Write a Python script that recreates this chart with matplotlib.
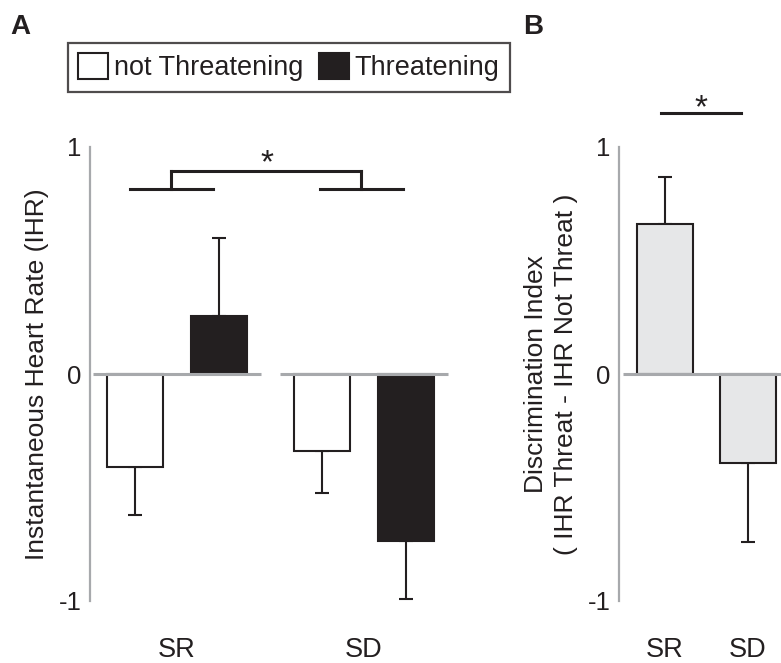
import numpy as np
import matplotlib
matplotlib.use("Agg")
import matplotlib.pyplot as plt
from matplotlib.patches import Patch

plt.rcParams['font.family'] = ['Liberation Sans', 'DejaVu Sans']

# Panel A: heart rate per group and condition
groups = ['SR', 'SD']
ihr_not_threat = [-0.41, -0.34]
ihr_not_threat_err = [0.21, 0.185]
ihr_threat = [0.255, -0.735]
ihr_threat_err = [0.345, 0.255]

# Panel B: discrimination index
disc_index = [0.66, -0.39]
disc_index_err = [0.21, 0.35]

ink = '#231f20'
grey = '#a7a9ac'
light = '#e6e7e8'

fig = plt.figure(figsize=(7.81, 6.63), dpi=100)
W, H = 781, 663


def fig_axes(x0, x1, y_top, y_bot):
    return fig.add_axes([x0 / W, 1 - y_bot / H, (x1 - x0) / W, (y_bot - y_top) / H])


def style(ax):
    for s in ['top', 'right', 'bottom']:
        ax.spines[s].set_visible(False)
    ax.spines['left'].set_color(grey)
    ax.spines['left'].set_linewidth(1.6)
    ax.set_ylim(-1, 1)
    ax.set_yticks([-1, 0, 1])
    ax.set_yticklabels(['-1', '0', '1'])
    ax.tick_params(axis='y', length=0, pad=6, labelsize=18.5, labelcolor='#231f20')
    ax.tick_params(axis='x', length=0, pad=26, labelsize=19.5, labelcolor='#231f20')


# ---------- A ----------
axA = fig_axes(90, 460, 147, 601)
style(axA)
x = np.arange(len(groups))
off, bw = 0.225, 0.30
axA.set_xlim(-0.465, 1.513)

axA.bar(x - off, ihr_not_threat, bw, color='white', edgecolor=ink, linewidth=1.5, zorder=2)
axA.bar(x + off, ihr_threat, bw, color=ink, edgecolor=ink, linewidth=1.5, zorder=2)

for xs, vals, errs in [(x - off, ihr_not_threat, ihr_not_threat_err),
                       (x + off, ihr_threat, ihr_threat_err)]:
    vals = np.array(vals)
    errs = np.array(errs)
    lo = np.where(vals < 0, errs, 0)
    hi = np.where(vals >= 0, errs, 0)
    axA.errorbar(xs, vals, yerr=[lo, hi], fmt='none', ecolor=ink,
                 elinewidth=1.5, capsize=5, capthick=1.5, zorder=1)

axA.hlines(np.zeros(len(x)), x - 0.447, x + 0.447, color=grey, linewidth=2.2, zorder=3)
axA.set_xticks(x)
axA.set_xticklabels(groups)
axA.set_ylabel('Instantaneous Heart Rate (IHR)', fontsize=19, color=ink)
axA.yaxis.label.set_va('center')
axA.yaxis.set_label_coords(-0.143, 0.5)

# significance bracket
bx = [-0.03, 0.985]
for c in bx:
    axA.plot([c - 0.222, c + 0.222], [0.815, 0.815], color=ink, lw=2.2, clip_on=False)
    axA.plot([c, c], [0.815, 0.894], color=ink, lw=2.2, clip_on=False)
axA.plot(bx, [0.894, 0.894], color=ink, lw=2.2, clip_on=False)
axA.text(0.48, 0.925, '*', ha='center', va='center', fontsize=24, color=ink)

# ---------- B ----------
axB = fig_axes(619, 781, 147, 601)
style(axB)
xb = np.arange(len(groups))
axB.set_xlim(-0.554, 1.398)
axB.bar(xb, disc_index, 0.675, color=light, edgecolor=ink, linewidth=1.5, zorder=2)
vals = np.array(disc_index)
errs = np.array(disc_index_err)
axB.errorbar(xb, vals, yerr=[np.where(vals < 0, errs, 0), np.where(vals >= 0, errs, 0)],
             fmt='none', ecolor=ink, elinewidth=1.5, capsize=5, capthick=1.5, zorder=1)
axB.hlines(0, -0.506, 1.398, color=grey, linewidth=2.2, zorder=3)
axB.set_xticks(xb)
axB.set_xticklabels(groups)
axB.set_ylabel('Discrimination Index\n( IHR Threat - IHR Not Threat )', fontsize=19,
               color=ink, linespacing=1.35)
axB.yaxis.label.set_va('center')
axB.yaxis.set_label_coords(-0.42, 0.5)

axB.plot([-0.048, 0.916], [1.15, 1.15], color=ink, lw=2.2, clip_on=False)
axB.text(0.434, 1.17, '*', ha='center', va='center', fontsize=24, color=ink)

# legend
handles = [Patch(facecolor='white', edgecolor=ink, linewidth=1.5, label='not Threatening'),
           Patch(facecolor=ink, edgecolor=ink, linewidth=1.5, label='Threatening')]
leg = fig.legend(handles=handles, loc='upper left', bbox_to_anchor=(68 / W, 1 - 43 / H),
                 ncol=2, fontsize=19.5, frameon=True, fancybox=False, borderaxespad=0,
                 handlelength=1.1, handleheight=1.07, handletextpad=0.2,
                 columnspacing=0.6, borderpad=0.38)
leg.get_frame().set_edgecolor(ink)
leg.get_frame().set_linewidth(1.6)
for t in leg.get_texts():
    t.set_color(ink)

fig.text(10 / W, 1 - 14 / H, 'A', fontsize=20, fontweight='bold', va='top', color=ink)
fig.text(523 / W, 1 - 14 / H, 'B', fontsize=20, fontweight='bold', va='top', color=ink)

fig.savefig('out.png', dpi=100)
